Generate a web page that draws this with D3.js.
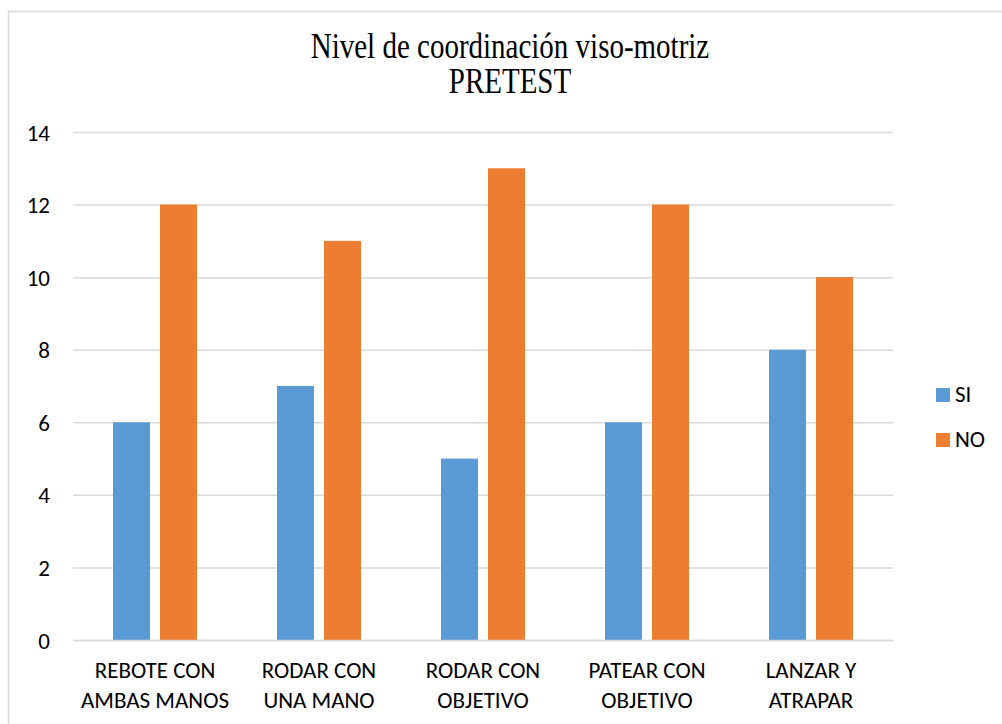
<!DOCTYPE html>
<html>
<head>
<meta charset="utf-8">
<script src="https://cdn.jsdelivr.net/npm/d3@7"></script>
<style>
  body { margin: 0; background: #fff; }
</style>
</head>
<body>
<svg id="mainsvg" width="1002" height="724"></svg>
<script>
// data
const categories = [
  ["REBOTE CON", "AMBAS MANOS"],
  ["RODAR CON", "UNA MANO"],
  ["RODAR CON", "OBJETIVO"],
  ["PATEAR CON", "OBJETIVO"],
  ["LANZAR Y", "ATRAPAR"]
];
const seriesNames = ["SI", "NO"];
const siValues = [6, 7, 5, 6, 8];
const noValues = [12, 11, 13, 12, 10];
const yTicks = [0, 2, 4, 6, 8, 10, 12, 14];
const titleLines = ["Nivel de coordinación viso-motriz", "PRETEST"];

const color = { "SI": "#5b9bd5", "NO": "#ed7d31" };

const svg = d3.select('#mainsvg');
const width = +svg.attr('width');
const height = +svg.attr('height');
const margin = {top: 132, right: 109, bottom: 84, left: 73};
const innerWidth = width - margin.left - margin.right;
const innerHeight = height - margin.top - margin.bottom;

const labelFont = "Carlito, Calibri, 'Open Sans', sans-serif";

// chart area border (runs off the right and bottom edge like the original)
svg.append('rect')
  .attr('x', 8.5).attr('y', 11.5)
  .attr('width', width + 20).attr('height', height + 20)
  .attr('fill', 'none')
  .attr('stroke', '#d9d9d9')
  .attr('stroke-width', 1.5);

// title, a bit stretched vertically as in the picture
const title = svg.append('g')
  .attr('transform', 'translate(510, 0) scale(1, 1.2)');
title.selectAll('text').data(titleLines).join('text')
  .attr('x', 0)
  .attr('y', (d, i) => (i === 0 ? 58 : 93) / 1.2)
  .attr('text-anchor', 'middle')
  .attr('font-family', "'Liberation Serif', 'Times New Roman', serif")
  .attr('font-size', '29px')
  .attr('fill', '#000')
  .text(d => d);

const g = svg.append('g')
  .attr('transform', `translate(${margin.left}, ${margin.top})`);

const xScale = d3.scaleBand()
  .domain(d3.range(categories.length))
  .range([0, innerWidth]);

const yScale = d3.scaleLinear()
  .domain([0, 14])
  .range([innerHeight, 0]);

const barW = 37, barGap = 10;
const xSub = d3.scaleOrdinal()
  .domain(seriesNames)
  .range([-(barGap / 2 + barW), barGap / 2]);

// gridlines + y labels
const yAxis = d3.axisLeft(yScale)
  .tickValues(yTicks)
  .tickSize(-innerWidth)
  .tickFormat(d3.format('d'));

const yAxisGroup = g.append('g').call(yAxis);
yAxisGroup.select('.domain').remove();
yAxisGroup.selectAll('line')
  .attr('stroke', '#d9d9d9')
  .attr('stroke-width', 1.5);
yAxisGroup.selectAll('text')
  .attr('font-family', labelFont)
  .attr('font-size', '23px')
  .attr('fill', '#000')
  .attr('x', -23)
  .attr('dy', '0.35em')
  .attr('text-anchor', 'end');

// bars
const rows = categories.map((c, i) => ({ i: i, SI: siValues[i], NO: noValues[i] }));
const groups = g.selectAll('.cat').data(rows).join('g')
  .attr('class', 'cat')
  .attr('transform', d => `translate(${xScale(d.i) + xScale.bandwidth() / 2}, 0)`);

groups.selectAll('rect')
  .data(d => seriesNames.map(k => ({ key: k, value: d[k] })))
  .join('rect')
  .attr('x', d => xSub(d.key))
  .attr('y', d => yScale(d.value))
  .attr('width', barW)
  .attr('height', d => innerHeight - yScale(d.value))
  .attr('fill', d => color[d.key]);

// x axis line
const xAxis = d3.axisBottom(xScale).tickSize(0).tickFormat('');
const xAxisGroup = g.append('g')
  .attr('transform', `translate(0, ${innerHeight})`)
  .call(xAxis);
xAxisGroup.select('.domain')
  .attr('stroke', '#d9d9d9')
  .attr('stroke-width', 1.5);

// category labels, two lines each
categories.forEach((lines, i) => {
  lines.forEach((line, j) => {
    g.append('text')
      .attr('class', 'xlabel')
      .attr('x', xScale(i) + xScale.bandwidth() / 2)
      .attr('y', innerHeight + 38 + j * 30)
      .attr('text-anchor', 'middle')
      .attr('font-family', labelFont)
      .attr('font-size', '23px')
      .attr('fill', '#000')
      .text(line);
  });
});

// legend
const legend = svg.selectAll('.legend').data(seriesNames).join('g')
  .attr('class', 'legend')
  .attr('transform', (d, i) => `translate(936, ${388 + i * 45})`);

legend.append('rect')
  .attr('width', 14).attr('height', 14)
  .attr('fill', d => color[d]);

legend.append('text')
  .attr('x', 19).attr('y', 14)
  .attr('font-family', labelFont)
  .attr('font-size', '23px')
  .attr('fill', '#000')
  .text(d => d);
</script>
</body>
</html>
